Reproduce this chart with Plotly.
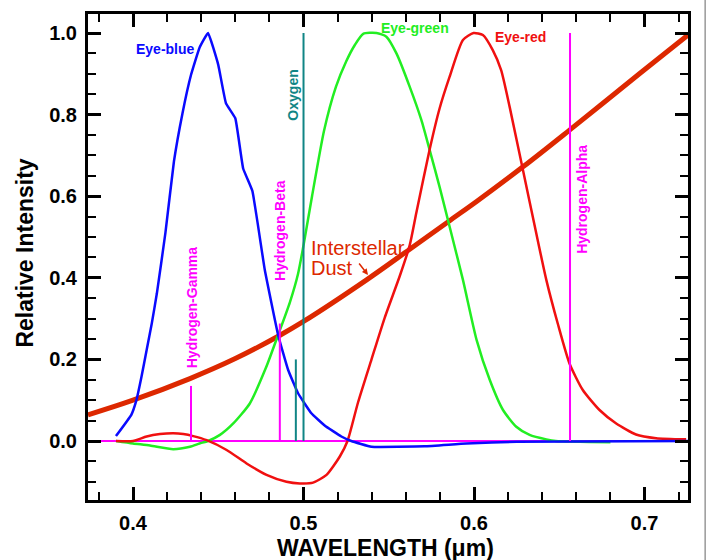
import plotly.graph_objects as go

# ---- data ----
blue_x = [0.390, 0.399, 0.402, 0.405, 0.408, 0.411, 0.414, 0.419, 0.424, 0.429, 0.434, 0.439,
          0.444, 0.450, 0.4545, 0.460, 0.4646, 0.470, 0.4773, 0.4851, 0.491, 0.4968, 0.5046,
          0.5124, 0.5222, 0.528, 0.5398, 0.571, 0.5955, 0.625, 0.727]
blue_y = [0.012, 0.064, 0.10, 0.158, 0.223, 0.288, 0.362, 0.51, 0.685, 0.803, 0.897, 0.964,
          1.0, 0.922, 0.828, 0.791, 0.668, 0.613, 0.419, 0.26, 0.174, 0.117, 0.068,
          0.038, 0.011, 0.0, -0.014, -0.013, -0.006, -0.002, 0.0]

green_x = [0.390, 0.400, 0.410, 0.4236, 0.4334, 0.439, 0.444, 0.451, 0.4588, 0.4685, 0.478,
           0.4851, 0.492, 0.4968, 0.4998, 0.505, 0.512, 0.519, 0.525, 0.530, 0.535, 0.5428,
           0.5486, 0.5545, 0.5623, 0.5691, 0.574, 0.5798, 0.5857, 0.5935, 0.6015, 0.6092,
           0.617, 0.6248, 0.6326, 0.6424, 0.648, 0.680]
green_y = [0.0, -0.006, -0.011, -0.02, -0.014, -0.006, 0.0, 0.015, 0.043, 0.092, 0.18,
           0.26, 0.34, 0.41, 0.475, 0.60, 0.76, 0.868, 0.93, 0.97, 0.998, 1.0,
           0.991, 0.95, 0.868, 0.787, 0.713, 0.623, 0.525, 0.395, 0.248, 0.15,
           0.076, 0.035, 0.015, 0.004, 0.0, -0.003]

red_x = [0.390, 0.400, 0.408, 0.4158, 0.4236, 0.4295, 0.4353, 0.4432, 0.4549, 0.4666, 0.4783,
         0.490, 0.4978, 0.5056, 0.5135, 0.5213, 0.5258, 0.532, 0.5398, 0.5476, 0.5565, 0.5623,
         0.5662, 0.574, 0.5798, 0.5857, 0.5935, 0.5997, 0.6052, 0.611, 0.6159, 0.6209, 0.6287,
         0.6357, 0.6424, 0.6491, 0.656, 0.6638, 0.6736, 0.6834, 0.695, 0.7068, 0.7244]
red_y = [0.0, 0.0, 0.011, 0.017, 0.019, 0.017, 0.012, 0.002, -0.022, -0.055, -0.083,
         -0.1, -0.104, -0.102, -0.083, -0.038, 0.0, 0.095, 0.199, 0.302, 0.405, 0.48,
         0.56, 0.715, 0.815, 0.893, 0.983, 1.0, 0.995, 0.958, 0.909, 0.819, 0.664,
         0.525, 0.395, 0.288, 0.19, 0.125, 0.076, 0.043, 0.016, 0.007, 0.004]

dust_x = [0.3736, 0.40, 0.4334, 0.46, 0.4857, 0.50, 0.537, 0.5623, 0.5857, 0.6015, 0.6287,
          0.656, 0.697, 0.7255]
dust_y = [0.064, 0.100, 0.153, 0.202, 0.258, 0.293, 0.395, 0.470, 0.540, 0.587, 0.672,
          0.762, 0.900, 0.995]

hydrogen_names = ["Hydrogen-Gamma", "Hydrogen-Beta", "Hydrogen-Alpha"]
hydrogen_x = [0.4340, 0.4861, 0.6563]
hydrogen_top = [0.135, 0.288, 1.0]

oxygen_x = [0.4955, 0.5000]
oxygen_top = [0.20, 1.0]

x_ticks = [0.4, 0.5, 0.6, 0.7]
y_ticks = [0.0, 0.2, 0.4, 0.6, 0.8, 1.0]
x_range = [0.3736, 0.7255]
y_range = [-0.1446, 1.0466]

BLUE = "#0a0aff"
GREEN = "#22ee22"
RED = "#f01010"
DUST = "#dd2800"
MAGENTA = "#ff00ff"
TEAL = "#108585"
FONT = "Liberation Sans, Arial, Helvetica, sans-serif"

fig = go.Figure()

fig.add_trace(go.Scatter(x=dust_x, y=dust_y, mode="lines", line=dict(color=DUST, width=5, shape="spline")))
fig.add_trace(go.Scatter(x=green_x, y=green_y, mode="lines", line=dict(color=GREEN, width=2.5, shape="spline", smoothing=0.6)))
fig.add_trace(go.Scatter(x=red_x, y=red_y, mode="lines", line=dict(color=RED, width=2.5, shape="spline", smoothing=0.6)))
fig.add_trace(go.Scatter(x=blue_x, y=blue_y, mode="lines", line=dict(color=BLUE, width=2.5, shape="spline", smoothing=0.3)))

# emission lines on the overlay axes (drawn on top, and carry the mirrored ticks)
for hx, ht in zip(hydrogen_x, hydrogen_top):
    fig.add_trace(go.Scatter(x=[hx, hx], y=[0, ht], mode="lines", xaxis="x2", yaxis="y2",
                             line=dict(color=MAGENTA, width=2), hoverinfo="skip"))
for ox, ot in zip(oxygen_x, oxygen_top):
    fig.add_trace(go.Scatter(x=[ox, ox], y=[0, ot], mode="lines", xaxis="x2", yaxis="y2",
                             line=dict(color=TEAL, width=2), hoverinfo="skip"))

ann = []
def lab(text, x, y, color, angle=0, size=14, bold=True, xanchor="center"):
    ann.append(dict(text=text, x=x, y=y, xref="x", yref="y", showarrow=False,
                    textangle=angle, xanchor=xanchor, yanchor="middle",
                    font=dict(family=FONT, size=size, color=color,
                              weight="bold" if bold else "normal")))

lab("Eye-blue", 0.4192, 0.961, BLUE)
lab("Eye-green", 0.5652, 1.012, GREEN)
lab("Eye-red", 0.6273, 0.990, RED)
lab("Oxygen", 0.4936, 0.848, TEAL, angle=-90)
lab(hydrogen_names[0], 0.4344, 0.327, MAGENTA, angle=-90)
lab(hydrogen_names[1], 0.4861, 0.517, MAGENTA, angle=-90)
lab(hydrogen_names[2], 0.6632, 0.593, MAGENTA, angle=-90)
lab("Interstellar", 0.5030, 0.474, DUST, size=20, bold=False, xanchor="left")
lab("Dust", 0.5030, 0.425, DUST, size=20, bold=False, xanchor="left")

ann.append(dict(text="", x=0.5378, y=0.407, xref="x", yref="y", showarrow=True,
                ax=-10, ay=-13, arrowhead=2, arrowsize=0.8, arrowwidth=1.5, arrowcolor=DUST))

ann.append(dict(text="Relative Intensity", x=(24 - 88) / 600.5, y=(500 - 253.5) / 486,
                xref="paper", yref="paper", showarrow=False, textangle=-90,
                xanchor="center", yanchor="middle",
                font=dict(family=FONT, size=23, color="black", weight="bold")))
ann.append(dict(text="WAVELENGTH (μm)", x=(386 - 88) / 600.5, y=(500 - 547.7) / 486,
                xref="paper", yref="paper", showarrow=False,
                xanchor="center", yanchor="middle",
                font=dict(family=FONT, size=23, color="black", weight="bold")))

tick_common = dict(ticks="inside", ticklen=13, tickwidth=2.5, tickcolor="black",
                   showgrid=False, tickformat=".1f",
                   tickfont=dict(family=FONT, size=20, color="black", weight="bold"))
xminor = dict(dtick=0.02, tick0=0, ticks="inside", ticklen=8, tickwidth=2, tickcolor="black")
yminor = dict(dtick=0.05, tick0=0, ticks="inside", ticklen=8, tickwidth=2, tickcolor="black")

fig.update_layout(
    width=711, height=560,
    margin=dict(l=88, r=22.5, t=14, b=60),
    paper_bgcolor="white", plot_bgcolor="white",
    showlegend=False,
    annotations=ann,
    xaxis=dict(range=x_range, tickvals=x_ticks, zeroline=False, showline=True,
               linecolor="black", linewidth=3, mirror=True,
               minor=xminor, ticklabelstandoff=3, **tick_common),
    yaxis=dict(range=y_range, tickvals=y_ticks, zeroline=True,
               zerolinecolor=MAGENTA, zerolinewidth=2, showline=True,
               linecolor="black", linewidth=3, mirror=True,
               minor=yminor, ticklabelstandoff=4, **tick_common),
    xaxis2=dict(range=x_range, tickvals=x_ticks, overlaying="x", side="top", anchor="y2",
                showticklabels=False, showline=False, zeroline=False, minor=xminor, **tick_common),
    yaxis2=dict(range=y_range, tickvals=y_ticks, overlaying="y", side="right", anchor="x2",
                showticklabels=False, showline=False, zeroline=False, minor=yminor, **tick_common),
    shapes=[dict(type="line", xref="paper", yref="paper", x0=1.0286, x1=1.0286,
                 y0=-0.1235, y1=1.0288, line=dict(color="#999999", width=1.5))],
)

fig.write_html("out.html")
